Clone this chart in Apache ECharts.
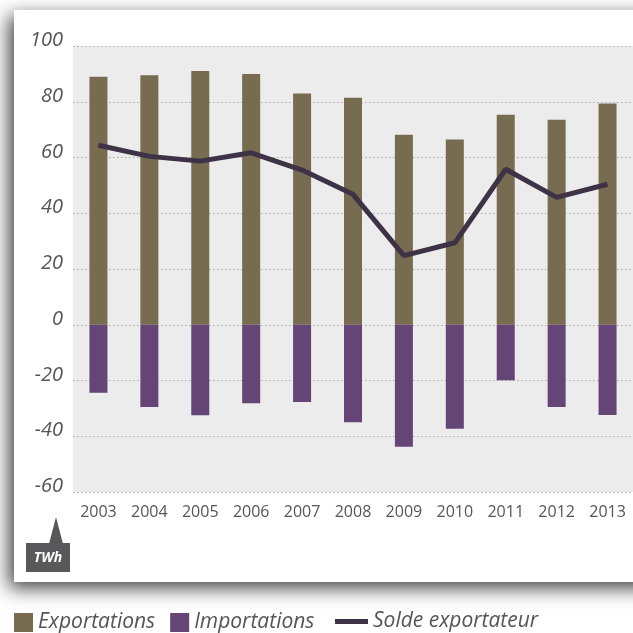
<!DOCTYPE html>
<html>
<head>
<meta charset="utf-8">
<script src="https://cdn.jsdelivr.net/npm/echarts@6/dist/echarts.min.js"></script>
<style>html,body{margin:0;padding:0;background:#fff}#c{width:633px;height:633px}</style>
</head>
<body>
<div id="c"></div>
<script>
const years = ['2003','2004','2005','2006','2007','2008','2009','2010','2011','2012','2013'];
const exportations = [89, 89.5, 91, 90, 83, 81.4, 68.2, 66.5, 75.3, 73.5, 79.4];
const importations = [-24.4, -29.5, -32.5, -28.2, -27.7, -35, -43.8, -37.3, -19.9, -29.5, -32.4];
const solde = [64.4, 60.4, 58.7, 61.7, 55.5, 46.8, 24.8, 29.4, 55.8, 45.7, 50.4];
const yTicks = [-60, -40, -20, 0, 20, 40, 60, 80, 100];

const FONT = 'Open Sans';
const TXT = '#555555';
const chart = echarts.init(document.getElementById('c'), null, {renderer: 'canvas'});
chart.setOption({
  animation: false,
  backgroundColor: '#ffffff',
  graphic: [
    {type: 'rect', z: -10, shape: {x: 14, y: 10, width: 660, height: 572},
     style: {fill: '#ffffff', shadowBlur: 18, shadowColor: 'rgba(0,0,0,0.75)', shadowOffsetX: -5, shadowOffsetY: 6}},
    {type: 'polygon', z: 10, shape: {points: [[49, 544], [56, 517], [63, 544]]}, style: {fill: '#58585a'}},
    {type: 'rect', z: 10, shape: {x: 26, y: 543, width: 44, height: 29}, style: {fill: '#58585a'}},
    {type: 'text', z: 11, x: 48, y: 558, style: {text: 'TWh', fill: '#ffffff', font: 'italic bold 14px "Open Sans"', align: 'center', verticalAlign: 'middle'}}
  ],
  grid: {left: 73, right: -1.5, top: 46, bottom: 141, show: true, backgroundColor: '#ececec', borderWidth: 0, containLabel: false},
  legend: [
    {data: ['Exportations', 'Importations'], left: 14, top: 612, padding: 0, itemWidth: 19, itemHeight: 19, itemGap: 15, icon: 'rect',
     textStyle: {fontFamily: FONT, fontStyle: 'italic', fontSize: 21, color: TXT}},
    {data: ['Solde exportateur'], left: 335, top: 611, padding: 0, itemWidth: 33, itemHeight: 5, icon: 'rect',
     textStyle: {fontFamily: FONT, fontStyle: 'italic', fontSize: 21, color: TXT}}
  ],
  xAxis: {
    type: 'category', data: years,
    axisLine: {show: false}, axisTick: {show: false},
    axisLabel: {fontFamily: FONT, fontSize: 16, color: TXT, margin: 12}
  },
  yAxis: {
    type: 'value', min: -60, max: 100, interval: 20,
    axisLine: {show: false}, axisTick: {show: false},
    axisLabel: {fontFamily: FONT, fontStyle: 'italic', fontSize: 20, color: TXT, margin: 10,
      verticalAlign: 'bottom', lineHeight: 11,
      formatter: v => yTicks.includes(v) ? String(v) : ''},
    splitLine: {show: true, lineStyle: {color: '#a8a8a8', type: [1.5, 2.5], width: 1}}
  },
  series: [
    {name: 'Exportations', type: 'bar', stack: 's', data: exportations, barWidth: 18, itemStyle: {color: '#776b50'}},
    {name: 'Importations', type: 'bar', stack: 's', data: importations, barWidth: 18, itemStyle: {color: '#654476'}},
    {name: 'Solde exportateur', type: 'line', data: solde, symbol: 'none', z: 5,
     lineStyle: {color: '#3e3246', width: 5}, itemStyle: {color: '#3e3246'}}
  ]
});
</script>
</body>
</html>
